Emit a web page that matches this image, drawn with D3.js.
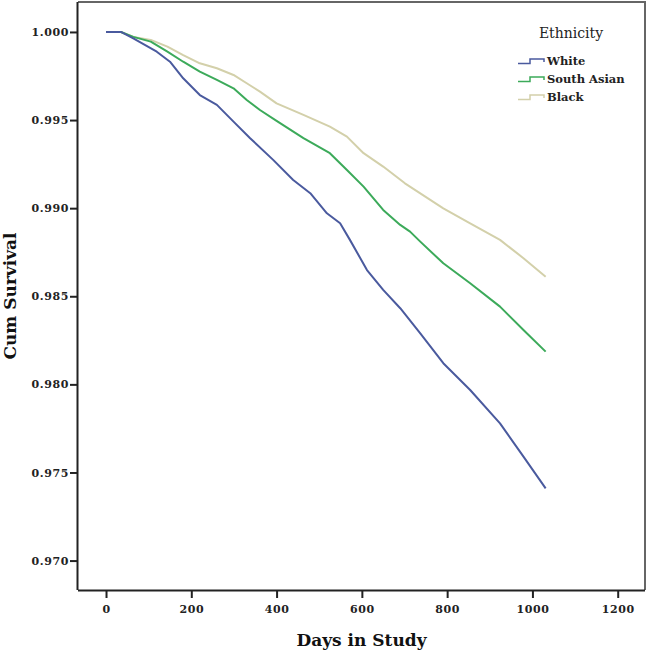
<!DOCTYPE html>
<html>
<head>
<meta charset="utf-8">
<script src="https://cdn.jsdelivr.net/npm/d3@7"></script>
<style>
  html, body { margin: 0; padding: 0; background: #fff; }
  svg { display: block; }
</style>
</head>
<body>
<svg id="chart" width="650" height="653"></svg>
<script>
// ---- Data ----
const seriesNames = ["White", "South Asian", "Black"];
const seriesColors = ["#4a5a9e", "#3caa5a", "#d3d0aa"];

const whiteDays = [0, 35, 64, 119, 150, 181, 220, 260, 299, 338, 392, 439, 479, 518, 549, 572, 612, 650, 690, 737, 791, 854, 924, 979, 1031];
const whiteSurv = [1.0, 1.0, 0.99964, 0.99888, 0.99831, 0.99737, 0.99642, 0.99586, 0.99491, 0.99397, 0.99274, 0.99160, 0.99085, 0.98971, 0.98914, 0.98820, 0.98649, 0.98536, 0.98432, 0.98290, 0.98120, 0.97968, 0.97779, 0.97590, 0.97410];

const southAsianDays = [0, 35, 64, 105, 144, 181, 220, 260, 299, 330, 361, 400, 463, 525, 565, 604, 650, 690, 713, 737, 791, 854, 924, 979, 1031];
const southAsianSurv = [1.0, 1.0, 0.99972, 0.99945, 0.99888, 0.99831, 0.99775, 0.99728, 0.99680, 0.99614, 0.99557, 0.99495, 0.99397, 0.99312, 0.99217, 0.99122, 0.98990, 0.98905, 0.98867, 0.98810, 0.98687, 0.98574, 0.98441, 0.98309, 0.98186];

const blackDays = [0, 35, 64, 105, 144, 181, 220, 260, 299, 330, 361, 400, 463, 525, 565, 604, 650, 701, 791, 854, 924, 979, 1031];
const blackSurv = [1.0, 1.0, 0.99972, 0.99955, 0.99917, 0.99869, 0.99822, 0.99794, 0.99756, 0.99709, 0.99661, 0.99595, 0.99529, 0.99463, 0.99406, 0.99312, 0.99236, 0.99141, 0.98999, 0.98914, 0.98820, 0.98716, 0.98611];

const xTicks = [0, 200, 400, 600, 800, 1000, 1200];
const yTicks = [0.970, 0.975, 0.980, 0.985, 0.990, 0.995, 1.000];

const xTitle = "Days in Study";
const yTitle = "Cum Survival";
const legendTitle = "Ethnicity";

// ---- Layout ----
const plot = { left: 78, right: 645, top: 2, bottom: 590 };

const x = d3.scaleLinear().domain([-65.7, 1264]).range([plot.left, plot.right]);
const y = d3.scaleLinear().domain([0.96833, 1.0017]).range([plot.bottom, plot.top]);

const svg = d3.select("#chart");
const tickFont = "'DejaVu Serif', serif";

// Frame (top and right borders)
svg.append("path")
  .attr("d", `M${plot.left},${plot.top}H${plot.right}V${plot.bottom}`)
  .attr("fill", "none")
  .attr("stroke", "#666")
  .attr("stroke-width", 2);

// Series
const series = [
  { name: seriesNames[0], color: seriesColors[0], days: whiteDays, surv: whiteSurv },
  { name: seriesNames[1], color: seriesColors[1], days: southAsianDays, surv: southAsianSurv },
  { name: seriesNames[2], color: seriesColors[2], days: blackDays, surv: blackSurv }
];

const line = d3.line()
  .x(d => x(d[0]))
  .y(d => y(d[1]))
  .curve(d3.curveLinear);

// draw Black first, then South Asian, then White on top
[2, 1, 0].forEach(i => {
  const s = series[i];
  const pts = s.days.map((d, k) => [d, s.surv[k]]);
  svg.append("path")
    .datum(pts)
    .attr("d", line)
    .attr("fill", "none")
    .attr("stroke", s.color)
    .attr("stroke-width", 2)
    .attr("stroke-linejoin", "round");
});

// Axes
const xAxis = d3.axisBottom(x).tickValues(xTicks).tickFormat(d3.format("d"))
  .tickSize(8).tickSizeOuter(0).tickPadding(7);
const gx = svg.append("g").attr("transform", `translate(0,${plot.bottom})`).call(xAxis);

const yAxis = d3.axisLeft(y).tickValues(yTicks).tickFormat(d3.format(".3f"))
  .tickSize(8).tickSizeOuter(0).tickPadding(1);
const gy = svg.append("g").attr("transform", `translate(${plot.left},0)`).call(yAxis);

[gx, gy].forEach(g => {
  g.select(".domain").attr("stroke", "#222").attr("stroke-width", 2);
  g.selectAll(".tick line").attr("stroke", "#222").attr("stroke-width", 2);
  g.selectAll(".tick text")
    .attr("fill", "#222")
    .style("font-family", tickFont)
    .style("font-weight", "bold")
    .style("font-size", "11px")
    .style("letter-spacing", "0.6px");
});
// extend domains to full frame
gx.select(".domain").attr("d", `M${plot.left},0.5H${plot.right}`);
gy.select(".domain").attr("d", `M-0.5,${plot.top}V${plot.bottom}`);

// Axis titles
svg.append("text")
  .attr("x", (plot.left + plot.right) / 2)
  .attr("y", 646)
  .attr("text-anchor", "middle")
  .style("font-family", tickFont)
  .style("font-weight", "bold")
  .style("font-size", "17px")
  .attr("fill", "#111")
  .text(xTitle);

svg.append("text")
  .attr("transform", `translate(16,${(plot.top + plot.bottom) / 2}) rotate(-90)`)
  .attr("text-anchor", "middle")
  .style("font-family", tickFont)
  .style("font-weight", "bold")
  .style("font-size", "17px")
  .attr("fill", "#111")
  .text(yTitle);

// Legend
const lg = svg.append("g");
lg.append("text")
  .attr("x", 571)
  .attr("y", 38)
  .attr("text-anchor", "middle")
  .style("font-family", tickFont)
  .style("font-size", "14px")
  .attr("fill", "#222")
  .text(legendTitle);

series.forEach((s, i) => {
  const cy = 61 + i * 18;
  lg.append("path")
    .attr("d", `M518,${cy + 2.5}H530V${cy - 2}H544V${cy + 1}`)
    .attr("fill", "none")
    .attr("stroke", s.color)
    .attr("stroke-width", 1.5);
  lg.append("text")
    .attr("x", 547)
    .attr("y", cy + 4)
    .style("font-family", tickFont)
    .style("font-weight", "bold")
    .style("font-size", "11.5px")
    .attr("fill", "#222")
    .text(s.name);
});
</script>
</body>
</html>
